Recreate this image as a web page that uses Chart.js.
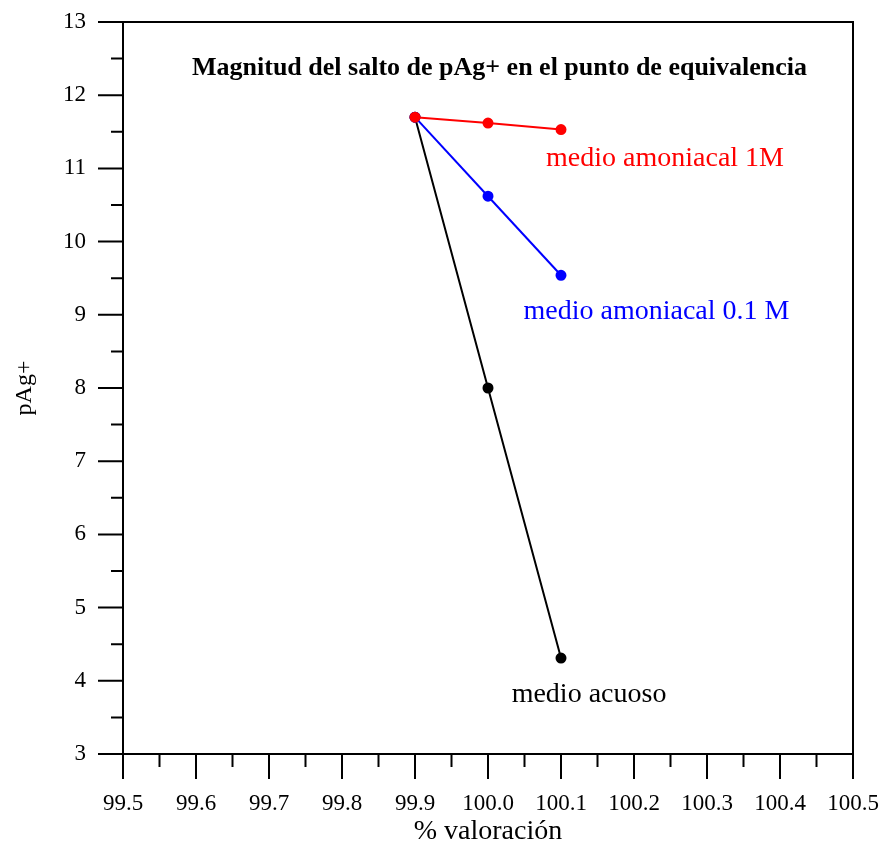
<!DOCTYPE html>
<html>
<head>
<meta charset="utf-8">
<script src="https://cdn.jsdelivr.net/npm/chart.js@4/dist/chart.umd.min.js"></script>
<style>
  html, body { margin: 0; padding: 0; background: #fff; }
  #wrap { width: 883px; height: 844px; }
</style>
</head>
<body>
<div id="wrap"><canvas id="salto"></canvas></div>
<script>
// % valoración
const valoracion = [99.9, 100.0, 100.1];
// pAg+ para cada medio
const pAgAmoniacal1M = [11.70, 11.62, 11.53];
const pAgAmoniacal01M = [11.70, 10.62, 9.54];
const pAgAcuoso = [11.70, 8.00, 4.31];

const xTicks = [99.5, 99.6, 99.7, 99.8, 99.9, 100.0, 100.1, 100.2, 100.3, 100.4, 100.5];
const yTicks = [3, 4, 5, 6, 7, 8, 9, 10, 11, 12, 13];

const titulo = 'Magnitud del salto de pAg+ en el punto de equivalencia';
// etiquetas de las curvas: texto, centro x, y (en unidades de datos), color
const etiquetas = [
    { text: 'medio amoniacal 1M', x: 100.2425, y: 11.14, color: '#ff0000' },
    { text: 'medio amoniacal 0.1 M', x: 100.2308, y: 9.04, color: '#0000ff' },
    { text: 'medio acuoso', x: 100.1384, y: 3.81, color: '#000000' }
];

function toPoints(ys) {
    return valoracion.map((v, i) => ({ x: v, y: ys[i] }));
}

function serie(label, ys, color) {
    return {
        label: label,
        data: toPoints(ys),
        borderColor: color,
        backgroundColor: color,
        borderWidth: 2,
        pointRadius: 4.5,
        pointHoverRadius: 4.5,
        showLine: true,
        tension: 0
    };
}

const serif = '"Liberation Serif", "Times New Roman", serif';

// frame, major/minor ticks and text labels
const decoracion = {
    id: 'decoracion',
    afterDraw(chart) {
        const { ctx, chartArea: a, scales: { x, y } } = chart;
        ctx.save();
        ctx.strokeStyle = '#000';
        ctx.lineWidth = 2;
        ctx.strokeRect(a.left, a.top, a.right - a.left, a.bottom - a.top);

        ctx.beginPath();
        for (let i = 0; i < yTicks.length; i++) {
            const py = y.getPixelForValue(yTicks[i]);
            ctx.moveTo(a.left - 25, py);
            ctx.lineTo(a.left, py);
            if (i < yTicks.length - 1) {
                const pm = y.getPixelForValue(yTicks[i] + 0.5);
                ctx.moveTo(a.left - 12, pm);
                ctx.lineTo(a.left, pm);
            }
        }
        for (let i = 0; i < xTicks.length; i++) {
            const px = x.getPixelForValue(xTicks[i]);
            ctx.moveTo(px, a.bottom);
            ctx.lineTo(px, a.bottom + 25);
            if (i < xTicks.length - 1) {
                const pm = x.getPixelForValue(xTicks[i] + 0.05);
                ctx.moveTo(pm, a.bottom);
                ctx.lineTo(pm, a.bottom + 13);
            }
        }
        ctx.stroke();

        ctx.textAlign = 'center';
        ctx.textBaseline = 'middle';
        ctx.fillStyle = '#000';
        ctx.font = 'bold 26px ' + serif;
        ctx.fillText(titulo, x.getPixelForValue(100.0158), y.getPixelForValue(12.37));

        ctx.font = '28px ' + serif;
        etiquetas.forEach(e => {
            ctx.fillStyle = e.color;
            ctx.fillText(e.text, x.getPixelForValue(e.x), y.getPixelForValue(e.y));
        });
        ctx.restore();
    }
};

const fuenteTicks = { family: serif, size: 23 };

function sinRelleno(s) {
    s.paddingTop = 0;
    s.paddingBottom = 0;
    s.paddingLeft = 0;
    s.paddingRight = 0;
}

new Chart(document.getElementById('salto'), {
    type: 'scatter',
    data: {
        datasets: [
            serie('medio amoniacal 1M', pAgAmoniacal1M, '#ff0000'),
            serie('medio amoniacal 0.1 M', pAgAmoniacal01M, '#0000ff'),
            serie('medio acuoso', pAgAcuoso, '#000000')
        ]
    },
    options: {
        responsive: true,
        maintainAspectRatio: false,
        animation: false,
        devicePixelRatio: 1,
        layout: { padding: { top: 22, right: 30, left: 0, bottom: 0 } },
        plugins: {
            legend: { display: false },
            tooltip: { enabled: false }
        },
        scales: {
            x: {
                type: 'linear',
                min: 99.5,
                max: 100.5,
                afterBuildTicks: s => { s.ticks = xTicks.map(v => ({ value: v })); },
                afterFit: s => { s.height = 90; sinRelleno(s); },
                grid: { display: false, drawTicks: false },
                border: { display: false },
                ticks: {
                    padding: 36,
                    color: '#000',
                    font: fuenteTicks,
                    maxRotation: 0,
                    autoSkip: false,
                    callback: v => v.toFixed(1)
                },
                title: {
                    display: true,
                    text: '% valoración',
                    color: '#000',
                    font: { family: serif, size: 28, lineHeight: 1 },
                    padding: { top: 0, bottom: -2 }
                }
            },
            y: {
                type: 'linear',
                min: 3,
                max: 13,
                afterBuildTicks: s => { s.ticks = yTicks.map(v => ({ value: v })); },
                afterFit: s => { s.width = 123; sinRelleno(s); },
                grid: { display: false, drawTicks: false },
                border: { display: false },
                ticks: {
                    padding: 37,
                    color: '#000',
                    font: fuenteTicks,
                    autoSkip: false,
                    callback: v => String(v)
                },
                title: {
                    display: true,
                    text: 'pAg+',
                    color: '#000',
                    font: { family: serif, size: 24, lineHeight: 1 },
                    padding: { top: 13, bottom: 0 }
                }
            }
        }
    },
    plugins: [decoracion]
});
</script>
</body>
</html>
